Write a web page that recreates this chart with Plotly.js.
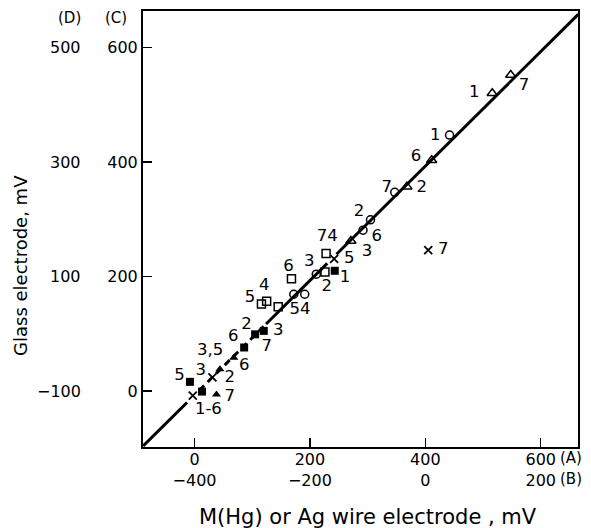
<!DOCTYPE html>
<html>
<head>
<meta charset="utf-8">
<script src="https://cdn.plot.ly/plotly-3.0.1.min.js"></script>
<style>html,body{margin:0;padding:0;background:#fff;}#chart{width:591px;height:528px;}</style>
</head>
<body>
<div id="chart"></div>
<script>
// Scale (A) on x, scale (C) on y
var xTickVals = [0, 200, 400, 600];
var xTickA = ['0', '200', '400', '600'];
var xTickB = ['\u2212400', '\u2212200', '0', '200'];
var yTickVals = [0, 200, 400, 600];
var yTickC = ['0', '200', '400', '600'];
var yTickD = ['\u2212100', '100', '300', '500'];

// reference line pieces (glass = metal electrode)
var line1X = [-89, -13], line1Y = [-96, -20];
var line2X = [8, 124], line2Y = [1, 117];
var line3X = [124, 230], line3Y = [117, 223];
var line4X = [246, 665], line4Y = [239, 658];

// open triangles
var triX = [548, 516, 411, 368, 271];
var triY = [552, 520, 403, 357, 262];
// open circles
var circX = [442, 347, 305, 292, 211, 172, 191];
var circY = [447, 347, 299, 281, 204, 169, 169];
// open squares
var sqX = [228, 226, 168, 116, 125, 145];
var sqY = [240, 208, 196, 152, 157, 147];
// filled squares
var fsqX = [243, 120, 105, 86, -8, 13];
var fsqY = [210, 105, 99, 76, 16, -1];
// filled triangles
var ftriX = [38, 44, 68];
var ftriY = [-6, 38, 58];
// crosses
var crX = [-3, 31, 242, 405];
var crY = [-8, 24, 231, 246];

// point labels
var labText = ['7','1','1','6','7','2','2','6','74','3','5','3','6','2','1','4','5','54','7','2','3','6','7','3,5','6','3','2','5','7','1-6'];
var labX = [571,485,417,384,333,394,285,316,230,299,268,199,163,229,261,121,96,183,431,90,145,67,125,27,86,11,61,-26,61,24];
var labY = [533,520,445,409,355,355,313,270,269,243,231,225,217,182,197,183,162,141,246,115,105,94,77,70,44,35,23,26,-11,-33];

var FONT = 'DejaVu Sans, sans-serif';
function seg(x, y, dash) {
  return {x: x, y: y, mode: 'lines', type: 'scatter', hoverinfo: 'skip',
          line: {color: '#000', width: 3, dash: dash || 'solid'}, showlegend: false};
}
function pts(x, y, sym, size, lw) {
  return {x: x, y: y, mode: 'markers', type: 'scatter', showlegend: false, cliponaxis: false,
          marker: {symbol: sym, size: size, color: '#000', line: {color: '#000', width: lw}}};
}
var traces = [
  seg(line1X, line1Y), seg(line2X, line2Y, '7px,5px'), seg(line3X, line3Y), seg(line4X, line4Y),
  pts(triX, triY, 'triangle-up-open', 9, 1.5),
  pts(circX, circY, 'circle-open', 8, 1.5),
  pts(sqX, sqY, 'square-open', 8, 1.5),
  pts(fsqX, fsqY, 'square', 8, 0),
  pts(ftriX, ftriY, 'triangle-up', 8, 0),
  pts(crX, crY, 'x-thin-open', 8, 1.8),
  {x: labX, y: labY, text: labText, mode: 'text', type: 'scatter', showlegend: false, cliponaxis: false,
   textposition: 'middle center', textfont: {family: FONT, size: 16.5, color: '#000'}}
];

var xTickText = xTickA.map(function(a, i){ return a + '<br>' + xTickB[i]; });

var annotations = [];
yTickD.forEach(function(t, i){
  annotations.push({text: t, xref: 'paper', yref: 'y', x: -0.137, y: yTickVals[i],
    xanchor: 'right', yanchor: 'middle', showarrow: false, font: {family: FONT, size: 16, color: '#000'}});
});
annotations.push({text: '(D)', xref: 'paper', yref: 'paper', x: -0.168, y: 0.984, xanchor: 'center', yanchor: 'middle', showarrow: false, font: {family: FONT, size: 15, color: '#000'}});
annotations.push({text: '(C)', xref: 'paper', yref: 'paper', x: -0.063, y: 0.984, xanchor: 'center', yanchor: 'middle', showarrow: false, font: {family: FONT, size: 15, color: '#000'}});
annotations.push({text: '(A)', xref: 'paper', yref: 'paper', x: 0.953, y: -0.025, xanchor: 'left', yanchor: 'middle', showarrow: false, font: {family: FONT, size: 15, color: '#000'}});
annotations.push({text: '(B)', xref: 'paper', yref: 'paper', x: 0.953, y: -0.0734, xanchor: 'left', yanchor: 'middle', showarrow: false, font: {family: FONT, size: 15, color: '#000'}});
annotations.push({text: 'M(Hg) or Ag wire electrode , mV', xref: 'paper', yref: 'paper', x: 0.518, y: -0.1606, xanchor: 'center', yanchor: 'middle', showarrow: false, font: {family: FONT, size: 21, color: '#000'}});
annotations.push({text: 'Glass electrode, mV', xref: 'paper', yref: 'paper', x: -0.283, y: 0.4174, xanchor: 'center', yanchor: 'middle', textangle: -90, showarrow: false, font: {family: FONT, size: 18, color: '#000'}});

var layout = {
  width: 591, height: 528,
  margin: {l: 143, r: 13, t: 11, b: 81},
  paper_bgcolor: '#fff', plot_bgcolor: '#fff',
  font: {family: FONT, size: 16, color: '#000'},
  showlegend: false,
  xaxis: {range: [-89.3, 664.6], tickvals: xTickVals, ticktext: xTickText, ticks: 'inside', ticklen: 9, tickwidth: 1.5,
          tickcolor: '#000', showgrid: false, zeroline: false, showline: true, linecolor: '#000', linewidth: 2,
          mirror: true, ticklabelstandoff: -3, tickfont: {family: FONT, size: 16, color: '#000'}},
  yaxis: {range: [-97.8, 663.8], tickvals: yTickVals, ticktext: yTickC, ticks: 'inside', ticklen: 9, tickwidth: 1.5,
          tickcolor: '#000', showgrid: false, zeroline: false, showline: true, linecolor: '#000', linewidth: 2,
          mirror: true, tickfont: {family: FONT, size: 16, color: '#000'}},
  annotations: annotations
};
Plotly.newPlot('chart', traces, layout, {staticPlot: true, displayModeBar: false});
</script>
</body>
</html>
